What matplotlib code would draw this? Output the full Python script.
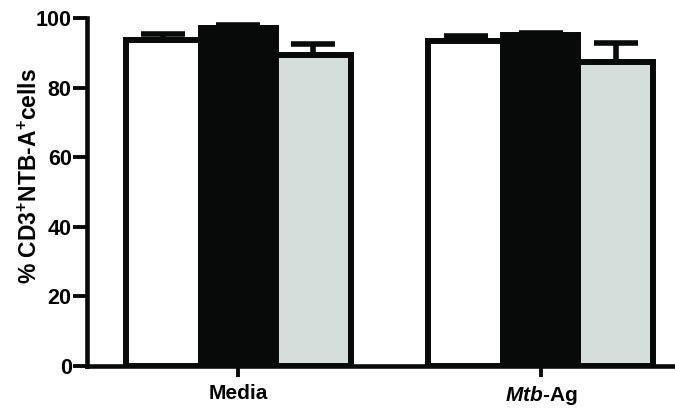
import matplotlib
matplotlib.use("Agg")
from matplotlib import pyplot as plt
from matplotlib import font_manager
import numpy as np

# data ---------------------------------------------------------------
groups = ["Media", r"$\mathit{Mtb}$-Ag"]
white_vals = [93.8, 93.3]
white_err = [1.5, 1.6]
black_vals = [97.1, 95.2]
black_err = [0.9, 0.6]
grey_vals = [89.5, 87.3]
grey_err = [2.9, 5.6]

# fonts ----------------------------------------------------------------
names = {f.name for f in font_manager.fontManager.ttflist}
font = "Liberation Sans Narrow" if "Liberation Sans Narrow" in names else "Liberation Sans"
plt.rcParams["font.family"] = [font, "DejaVu Sans"]
plt.rcParams["font.weight"] = "bold"
plt.rcParams["mathtext.fontset"] = "custom"
plt.rcParams["mathtext.rm"] = font + ":bold"
plt.rcParams["mathtext.bf"] = font + ":bold"
plt.rcParams["mathtext.it"] = font + ":bold:italic"

fig = plt.figure(figsize=(6.75, 4.16), dpi=100)
# axes runs a bit past the right edge of the figure
ax = fig.add_axes([87 / 675, 50 / 416, 605 / 675, 348 / 416])

x = np.arange(len(groups))
w = 0.248
edge = "#080a09"
lw = 4.3

series = [(white_vals, white_err, "white", -w),
          (black_vals, black_err, edge, 0),
          (grey_vals, grey_err, "#d6dedb", w)]

for vals, errs, color, off in series:
    ax.errorbar(x + off, vals, yerr=[np.zeros(len(vals)), errs], fmt="none",
                ecolor=edge, elinewidth=4, capsize=15.5, capthick=4, zorder=1)
    ax.bar(x + off, vals, width=w, color=color, edgecolor=edge, linewidth=lw, zorder=2)

ax.set_xlim(-0.5, 1.5)
ax.set_ylim(0, 100)
ax.set_yticks([0, 20, 40, 60, 80, 100])
ax.set_xticks(x)
ax.set_xticklabels(groups)

for s in ["top", "right"]:
    ax.spines[s].set_visible(False)
for s in ["left", "bottom"]:
    ax.spines[s].set_linewidth(3.3)
    ax.spines[s].set_color(edge)
    ax.spines[s].set_capstyle("projecting")

ax.tick_params(axis="y", length=10, width=2.8, pad=1, labelsize=15.5, color=edge)
ax.tick_params(axis="x", length=8, width=2.8, pad=5, labelsize=15, color=edge)

ax.set_ylabel(r"% CD3$^{\mathbf{+}}$NTB-A$^{\mathbf{+}}$cells", fontsize=16.5, fontweight="bold")
ax.yaxis.set_label_coords(-0.074, 0.545)

fig.savefig("out.png", dpi=100)
